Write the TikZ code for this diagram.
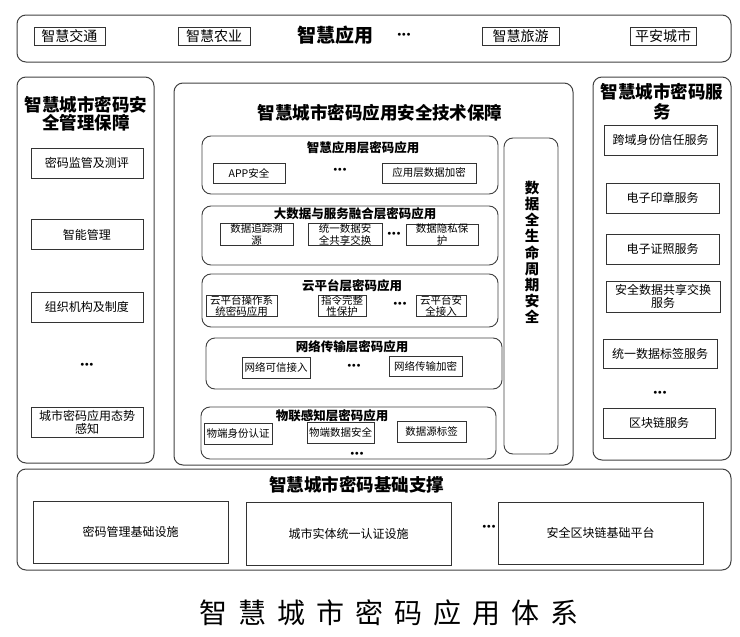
\documentclass[tikz,border=0pt]{standalone}
\usepackage{fontspec}
\setmainfont{Noto Sans CJK SC}
\usetikzlibrary{positioning}

\begin{document}
\begin{tikzpicture}[x=1pt, y=-1pt,
    panel/.style={draw=black!75, rounded corners=9pt, line width=1pt},
    layer/.style={draw=black!75, rounded corners=9pt, line width=0.9pt},
    box/.style={draw=black!80, line width=0.8pt, inner sep=0pt, align=center, font=\fontsize{12}{13}\selectfont},
    smallbox/.style={box, font=\fontsize{10.5}{11.5}\selectfont},
    head/.style={font=\bfseries\fontsize{17.5}{18}\selectfont, align=center, inner sep=0pt},
    layerhead/.style={font=\bfseries\fontsize{12.5}{13}\selectfont, inner sep=0pt},
    dots/.style={font=\fontsize{7}{7}\selectfont, inner sep=0pt}]
    \useasboundingbox (0,0) rectangle (740,637);

    % Top: applications
    \node[panel, minimum width=714, minimum height=47] (apps) at (374,38.5) {};
    \node[box, font=\fontsize{14}{15}\selectfont, minimum width=71, minimum height=18] (traffic) at (69.5,36) {智慧交通};
    \node[box, font=\fontsize{14}{15}\selectfont, minimum width=72, minimum height=18] (farm) at (214,36) {智慧农业};
    \node[head, font=\bfseries\fontsize{19}{20}\selectfont] (appshead) at (335,35) {智慧应用};
    \node[dots] (appsdots) at (404,35) {$\bullet\!\bullet\!\bullet$};
    \node[box, font=\fontsize{14}{15}\selectfont, minimum width=77, minimum height=18] (tour) at (520.5,36) {智慧旅游};
    \node[box, font=\fontsize{14}{15}\selectfont, minimum width=66, minimum height=18] (safe) at (663,36) {平安城市};

    % Left: management
    \node[panel, minimum width=137, minimum height=386] (mgmt) at (85.5,270) {};
    \node[head] (mgmthead) at (86,113.5) {智慧城市密码安\\全管理保障};
    \node[box, minimum width=112, minimum height=30] (audit) at (87,163) {密码监管及测评};
    \node[box, minimum width=112, minimum height=30] (smart) at (87,234.5) {智能管理};
    \node[box, minimum width=112, minimum height=30] (org) at (87,307) {组织机构及制度};
    \node[dots] (mgmtdots) at (87,365) {$\bullet\!\bullet\!\bullet$};
    \node[box, minimum width=112, minimum height=30] (aware) at (87,422) {城市密码应用态势\\感知};

    % Centre: technical safeguards
    \node[panel, minimum width=399, minimum height=382] (tech) at (373.5,274) {};
    \node[head] (techhead) at (380,113) {智慧城市密码应用安全技术保障};
    \node[layer, minimum width=54, minimum height=316] (life) at (531,296) {};
    \node[font=\bfseries\fontsize{14.5}{16.2}\selectfont, align=center, inner sep=0pt] (lifetext) at (532,252.5)
        {数\\据\\全\\生\\命\\周\\期\\安\\全};

    % layer 1
    \node[layer, minimum width=296, minimum height=58] (appl) at (350,165) {};
    \node[layerhead] (applhead) at (363,148) {智慧应用层密码应用};
    \node[smallbox, minimum width=72, minimum height=20] (appsafe) at (249,173) {APP安全};
    \node[dots] (appldots) at (340,170) {$\bullet\!\bullet\!\bullet$};
    \node[smallbox, minimum width=94, minimum height=20] (appenc) at (429,173) {应用层数据加密};

    % layer 2
    \node[layer, minimum width=296, minimum height=59] (bigdata) at (350,235.5) {};
    \node[layerhead] (bigdatahead) at (355,214) {大数据与服务融合层密码应用};
    \node[smallbox, minimum width=73, minimum height=21] (trace) at (256.5,234.5) {数据追踪溯\\源};
    \node[smallbox, minimum width=74, minimum height=21] (share) at (345,234.5) {统一数据安\\全共享交换};
    \node[dots] (bigdatadots) at (394,234) {$\bullet\!\bullet\!\bullet$};
    \node[smallbox, minimum width=72, minimum height=21] (privacy) at (442,234.5) {数据隐私保\\护};

    % layer 3
    \node[layer, minimum width=296, minimum height=53] (cloud) at (350,300.5) {};
    \node[layerhead] (cloudhead) at (352,286) {云平台层密码应用};
    \node[smallbox, minimum width=71, minimum height=20] (cloudos) at (241.5,306) {云平台操作系\\统密码应用};
    \node[smallbox, minimum width=48, minimum height=20] (instr) at (342,306) {指令完整\\性保护};
    \node[dots] (clouddots) at (400,304) {$\bullet\!\bullet\!\bullet$};
    \node[smallbox, minimum width=50, minimum height=20] (cloudin) at (441,306) {云平台安\\全接入};

    % layer 4
    \node[layer, minimum width=296, minimum height=51] (net) at (354,363.5) {};
    \node[layerhead] (nethead) at (352,347) {网络传输层密码应用};
    \node[smallbox, minimum width=68, minimum height=21] (netin) at (276,367.5) {网络可信接入};
    \node[dots] (netdots) at (354,366) {$\bullet\!\bullet\!\bullet$};
    \node[smallbox, minimum width=73, minimum height=20] (netenc) at (425.5,366) {网络传输加密};

    % layer 5
    \node[layer, minimum width=295, minimum height=52] (iot) at (348.5,433) {};
    \node[layerhead] (iothead) at (332,416) {物联感知层密码应用};
    \node[smallbox, minimum width=68, minimum height=21] (iotid) at (238,433.5) {物端身份认证};
    \node[smallbox, minimum width=67, minimum height=21] (iotdata) at (340.5,432.5) {物端数据安全};
    \node[smallbox, minimum width=69, minimum height=21] (srctag) at (431.5,431.5) {数据源标签};
    \node[dots] (iotdots) at (357,454) {$\bullet\!\bullet\!\bullet$};

    % Right: services
    \node[panel, minimum width=138, minimum height=383] (svc) at (662,268.5) {};
    \node[head, font=\bfseries\fontsize{17.5}{20}\selectfont] (svchead) at (662,102) {智慧城市密码服\\务};
    \node[box, minimum width=113, minimum height=30] (trust) at (660.5,140) {跨域身份信任服务};
    \node[box, minimum width=113, minimum height=30] (seal) at (662.5,198) {电子印章服务};
    \node[box, minimum width=113, minimum height=30] (cert) at (662.5,249) {电子证照服务};
    \node[box, minimum width=114, minimum height=31] (xchg) at (663,296.5) {安全数据共享交换\\服务};
    \node[box, minimum width=114, minimum height=29] (label) at (660,353.5) {统一数据标签服务};
    \node[dots] (svcdots) at (660,393) {$\bullet\!\bullet\!\bullet$};
    \node[box, minimum width=112, minimum height=30] (chain) at (659,423) {区块链服务};

    % Bottom: base support
    \node[panel, minimum width=714, minimum height=101] (base) at (374,519.5) {};
    \node[head] (basehead) at (356.5,485) {智慧城市密码基础支撑};
    \node[box, minimum width=195, minimum height=62] (kmi) at (130.5,532) {密码管理基础设施};
    \node[box, minimum width=205, minimum height=63] (auth) at (348.5,533.5) {城市实体统一认证设施};
    \node[dots] (basedots) at (489,527) {$\bullet\!\bullet\!\bullet$};
    \node[box, minimum width=205, minimum height=62] (bcp) at (600.5,533) {安全区块链基础平台};

    % Caption
    \node[font=\fontsize{28}{28}\selectfont, inner sep=0pt] (caption) at (389,613)
        {智\hspace{11pt}慧\hspace{11pt}城\hspace{11pt}市\hspace{11pt}密\hspace{11pt}码\hspace{11pt}应\hspace{11pt}用\hspace{11pt}体\hspace{11pt}系};
\end{tikzpicture}
\end{document}
